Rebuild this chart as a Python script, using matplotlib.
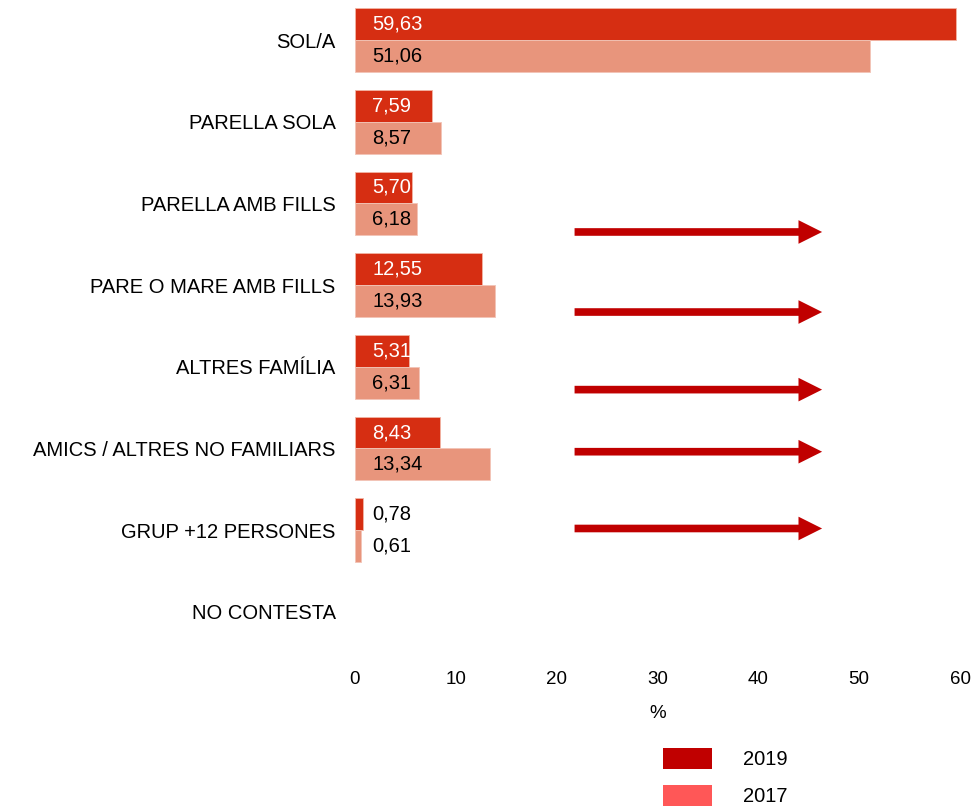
import matplotlib.pyplot as plt
import numpy as np
from matplotlib.patches import Patch, FancyArrowPatch, ArrowStyle

plt.rcParams['font.family'] = ['Liberation Sans', 'DejaVu Sans']

categories = ['SOL/A', 'PARELLA SOLA', 'PARELLA AMB FILLS', 'PARE O MARE AMB FILLS',
              'ALTRES FAMÍLIA', 'AMICS / ALTRES NO FAMILIARS', 'GRUP +12 PERSONES', 'NO CONTESTA']
v2019 = [59.63, 7.59, 5.70, 12.55, 5.31, 8.43, 0.78, np.nan]
v2017 = [51.06, 8.57, 6.18, 13.93, 6.31, 13.34, 0.61, np.nan]
xticks = [0, 10, 20, 30, 40, 50, 60]
arrow_rows = [2.35, 3.33, 4.28, 5.04, 5.98]  # arrow positions (category units)

bar19 = '#d62e12'
bar17 = '#e8957c'
leg19 = '#c00000'
leg17 = '#ff5757'

fig = plt.figure(figsize=(9.77, 8.06), dpi=100)
ax = fig.add_axes([355 / 977, 1 - 660 / 806, (960 - 355) / 977, 660 / 806])

y = np.arange(len(categories))
h = 0.39
ax.barh(y - h / 2, v2019, height=h, color=bar19, edgecolor='#f2b5a4', linewidth=0.6)
ax.barh(y + h / 2, v2017, height=h, color=bar17, edgecolor='#f2c4b6', linewidth=0.6)

for i in range(len(categories)):
    if not np.isnan(v2019[i]):
        c = 'white' if v2019[i] > 2 else 'black'
        ax.text(1.7, y[i] - h / 2, f'{v2019[i]:.2f}'.replace('.', ','), color=c,
                va='center', ha='left', fontsize=14.5)
    if not np.isnan(v2017[i]):
        ax.text(1.7, y[i] + h / 2, f'{v2017[i]:.2f}'.replace('.', ','), color='black',
                va='center', ha='left', fontsize=14.5)

for r in arrow_rows:
    ar = FancyArrowPatch((21.5, r), (46.6, r),
                         arrowstyle=ArrowStyle.Simple(head_length=17, head_width=17, tail_width=5.5),
                         mutation_scale=1, color=leg19, lw=0)
    ax.add_patch(ar)

ax.set_xlim(0, 60)
ax.set_ylim(7.59, -0.49)
ax.set_xticks(xticks)
ax.set_yticks(y)
ax.set_yticklabels(categories, fontsize=14.5)
ax.tick_params(axis='x', labelsize=13.5, length=0, pad=8)
ax.tick_params(axis='y', length=0, pad=14)
ax.set_xlabel('%', fontsize=13.5, labelpad=12)
for s in ax.spines.values():
    s.set_visible(False)

handles = [Patch(facecolor=leg19, label='2019'), Patch(facecolor=leg17, label='2017')]
fig.legend(handles=handles, loc='upper left', bbox_to_anchor=(663 / 977, 1 - 748 / 806),
           frameon=False, fontsize=14.5, handlelength=2.45, handleheight=1.25,
           handletextpad=1.5, labelspacing=0.75, borderpad=0, borderaxespad=0)

fig.savefig('out.png', dpi=100)
